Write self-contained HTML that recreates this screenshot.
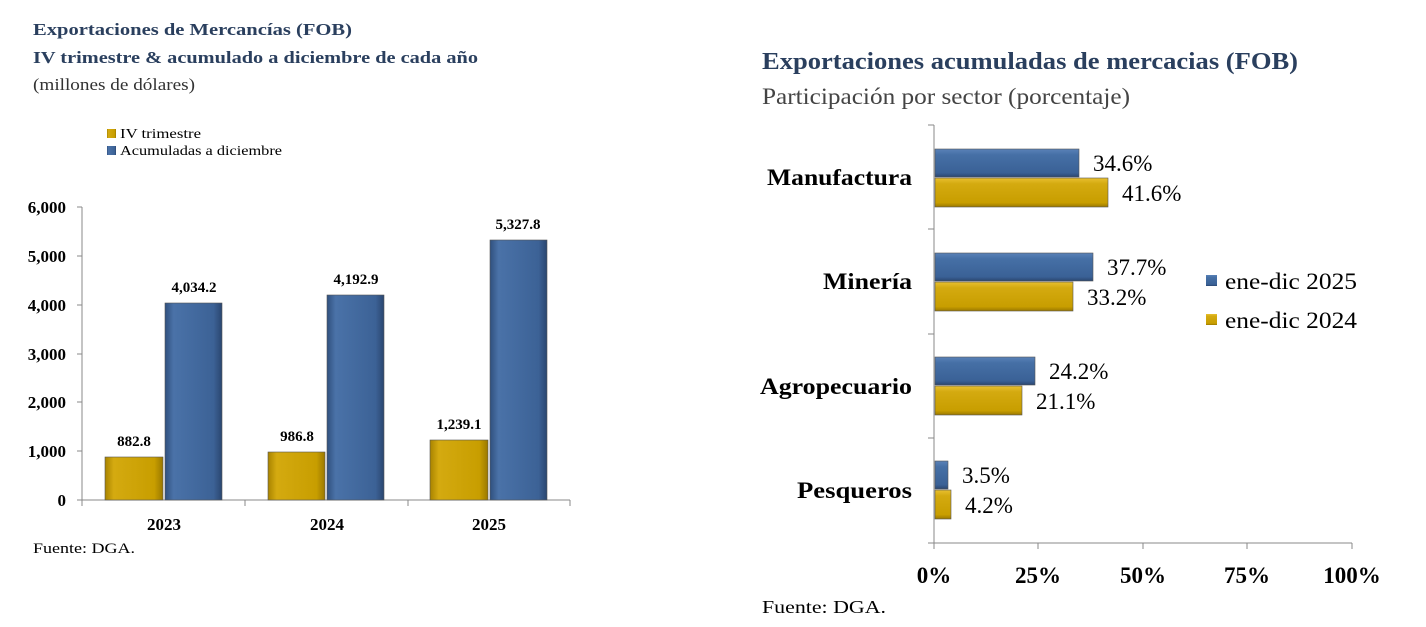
<!DOCTYPE html>
<html><head><meta charset="utf-8"><style>
body{margin:0;background:#fff;}
svg text{font-family:"Liberation Serif",serif;}
</style></head><body>
<svg width="1426" height="622" xmlns="http://www.w3.org/2000/svg">
<defs>
<linearGradient id="bv" x1="0" x2="1" y1="0" y2="0"><stop offset="0" stop-color="#30507e"/><stop offset="0.15" stop-color="#4a72a8"/><stop offset="0.85" stop-color="#3c6296"/><stop offset="1" stop-color="#2a4670"/></linearGradient>
<linearGradient id="gv" x1="0" x2="1" y1="0" y2="0"><stop offset="0" stop-color="#a88300"/><stop offset="0.15" stop-color="#d4aa10"/><stop offset="0.85" stop-color="#c89e00"/><stop offset="1" stop-color="#9a7800"/></linearGradient>
<linearGradient id="bh" x1="0" x2="0" y1="0" y2="1"><stop offset="0" stop-color="#5a82b8"/><stop offset="0.2" stop-color="#4670a6"/><stop offset="0.85" stop-color="#3a6196"/><stop offset="1" stop-color="#2a4670"/></linearGradient>
<linearGradient id="gh" x1="0" x2="0" y1="0" y2="1"><stop offset="0" stop-color="#e8c030"/><stop offset="0.2" stop-color="#d4aa10"/><stop offset="0.85" stop-color="#c89e00"/><stop offset="1" stop-color="#9a7800"/></linearGradient>
</defs>
<text x="33" y="35" font-size="17" font-weight="bold" fill="#2a3f5e" textLength="319" lengthAdjust="spacingAndGlyphs">Exportaciones de Mercancías (FOB)</text>
<text x="33" y="63" font-size="17" font-weight="bold" fill="#2a3f5e" textLength="445" lengthAdjust="spacingAndGlyphs">IV trimestre &amp; acumulado a diciembre de cada año</text>
<text x="33" y="90" font-size="17" fill="#333" textLength="162" lengthAdjust="spacingAndGlyphs">(millones de dólares)</text>
<rect x="107" y="129" width="9" height="9" fill="url(#gv)"/>
<text x="120" y="138" font-size="14" textLength="81" lengthAdjust="spacingAndGlyphs">IV trimestre</text>
<rect x="107" y="146" width="9" height="9" fill="url(#bv)"/>
<text x="120" y="155" font-size="14" textLength="162" lengthAdjust="spacingAndGlyphs">Acumuladas a diciembre</text>
<g stroke="#888" stroke-width="1" fill="none">
<line x1="82" y1="207" x2="82" y2="500"/>
<line x1="82" y1="500" x2="570" y2="500"/>
<line x1="77" y1="207" x2="82" y2="207"/><line x1="77" y1="256" x2="82" y2="256"/><line x1="77" y1="305" x2="82" y2="305"/><line x1="77" y1="354" x2="82" y2="354"/><line x1="77" y1="402" x2="82" y2="402"/><line x1="77" y1="451" x2="82" y2="451"/><line x1="77" y1="500" x2="82" y2="500"/>
<line x1="82" y1="500" x2="82" y2="506"/><line x1="245" y1="500" x2="245" y2="506"/><line x1="408" y1="500" x2="408" y2="506"/><line x1="570" y1="500" x2="570" y2="506"/>
</g>
<g font-size="17" font-weight="bold" text-anchor="end">
<text x="66" y="213">6,000</text><text x="66" y="262">5,000</text><text x="66" y="311">4,000</text><text x="66" y="360">3,000</text><text x="66" y="408">2,000</text><text x="66" y="457">1,000</text><text x="66" y="506">0</text>
</g>
<g stroke="#555" stroke-width="0.6">
<rect x="105" y="457" width="58" height="43" fill="url(#gv)"/>
<rect x="165" y="303" width="57" height="197" fill="url(#bv)"/>
<rect x="268" y="452" width="57" height="48" fill="url(#gv)"/>
<rect x="327" y="295" width="57" height="205" fill="url(#bv)"/>
<rect x="430" y="440" width="58" height="60" fill="url(#gv)"/>
<rect x="490" y="240" width="57" height="260" fill="url(#bv)"/>
</g>
<g font-size="15" font-weight="bold" text-anchor="middle">
<text x="134" y="446">882.8</text><text x="194" y="292">4,034.2</text>
<text x="297" y="441">986.8</text><text x="356" y="284">4,192.9</text>
<text x="459" y="429">1,239.1</text><text x="518" y="229">5,327.8</text>
</g>
<g font-size="17" font-weight="bold" text-anchor="middle">
<text x="164" y="530">2023</text><text x="327" y="530">2024</text><text x="489" y="530">2025</text>
</g>
<text x="33" y="553" font-size="15" textLength="102" lengthAdjust="spacingAndGlyphs">Fuente: DGA.</text>
<text x="762" y="69" font-size="24" font-weight="bold" fill="#2a3f5e" textLength="536" lengthAdjust="spacingAndGlyphs">Exportaciones acumuladas de mercacias (FOB)</text>
<text x="762" y="104" font-size="23" fill="#444" textLength="368" lengthAdjust="spacingAndGlyphs">Participación por sector (porcentaje)</text>
<g stroke="#888" stroke-width="1" fill="none">
<line x1="934" y1="125" x2="934" y2="543"/>
<line x1="934" y1="543" x2="1352" y2="543"/>
<line x1="928" y1="125" x2="934" y2="125"/><line x1="928" y1="229" x2="934" y2="229"/><line x1="928" y1="334" x2="934" y2="334"/><line x1="928" y1="438" x2="934" y2="438"/><line x1="928" y1="543" x2="934" y2="543"/>
<line x1="934" y1="543" x2="934" y2="549"/><line x1="1038" y1="543" x2="1038" y2="549"/><line x1="1143" y1="543" x2="1143" y2="549"/><line x1="1247" y1="543" x2="1247" y2="549"/><line x1="1352" y1="543" x2="1352" y2="549"/>
</g>
<g stroke="#555" stroke-width="0.6">
<rect x="935" y="149" width="144" height="28" fill="url(#bh)"/>
<rect x="935" y="178" width="173" height="29" fill="url(#gh)"/>
<rect x="935" y="253" width="158" height="28" fill="url(#bh)"/>
<rect x="935" y="282" width="138" height="29" fill="url(#gh)"/>
<rect x="935" y="357" width="100" height="28" fill="url(#bh)"/>
<rect x="935" y="386" width="87" height="29" fill="url(#gh)"/>
<rect x="935" y="461" width="13" height="28" fill="url(#bh)"/>
<rect x="935" y="490" width="16" height="29" fill="url(#gh)"/>
</g>
<g font-size="23">
<text x="1093" y="171">34.6%</text><text x="1122" y="201">41.6%</text>
<text x="1107" y="275">37.7%</text><text x="1087" y="305">33.2%</text>
<text x="1049" y="379">24.2%</text><text x="1036" y="409">21.1%</text>
<text x="962" y="483">3.5%</text><text x="965" y="513">4.2%</text>
</g>
<g font-size="23" font-weight="bold" text-anchor="end">
<text x="912" y="185" textLength="145" lengthAdjust="spacingAndGlyphs">Manufactura</text><text x="912" y="289" textLength="89" lengthAdjust="spacingAndGlyphs">Minería</text><text x="912" y="394" textLength="152" lengthAdjust="spacingAndGlyphs">Agropecuario</text><text x="912" y="498" textLength="115" lengthAdjust="spacingAndGlyphs">Pesqueros</text>
</g>
<rect x="1206" y="275" width="11" height="11" fill="url(#bh)"/>
<text x="1225" y="289" font-size="23" textLength="132" lengthAdjust="spacingAndGlyphs">ene-dic 2025</text>
<rect x="1206" y="314" width="11" height="11" fill="url(#gh)"/>
<text x="1225" y="328" font-size="23" textLength="132" lengthAdjust="spacingAndGlyphs">ene-dic 2024</text>
<g font-size="23" font-weight="bold" text-anchor="middle">
<text x="934" y="583">0%</text><text x="1038" y="583">25%</text><text x="1143" y="583">50%</text><text x="1247" y="583">75%</text><text x="1352" y="583">100%</text>
</g>
<text x="762" y="613" font-size="18" textLength="124" lengthAdjust="spacingAndGlyphs">Fuente: DGA.</text>
</svg>
</body></html>
